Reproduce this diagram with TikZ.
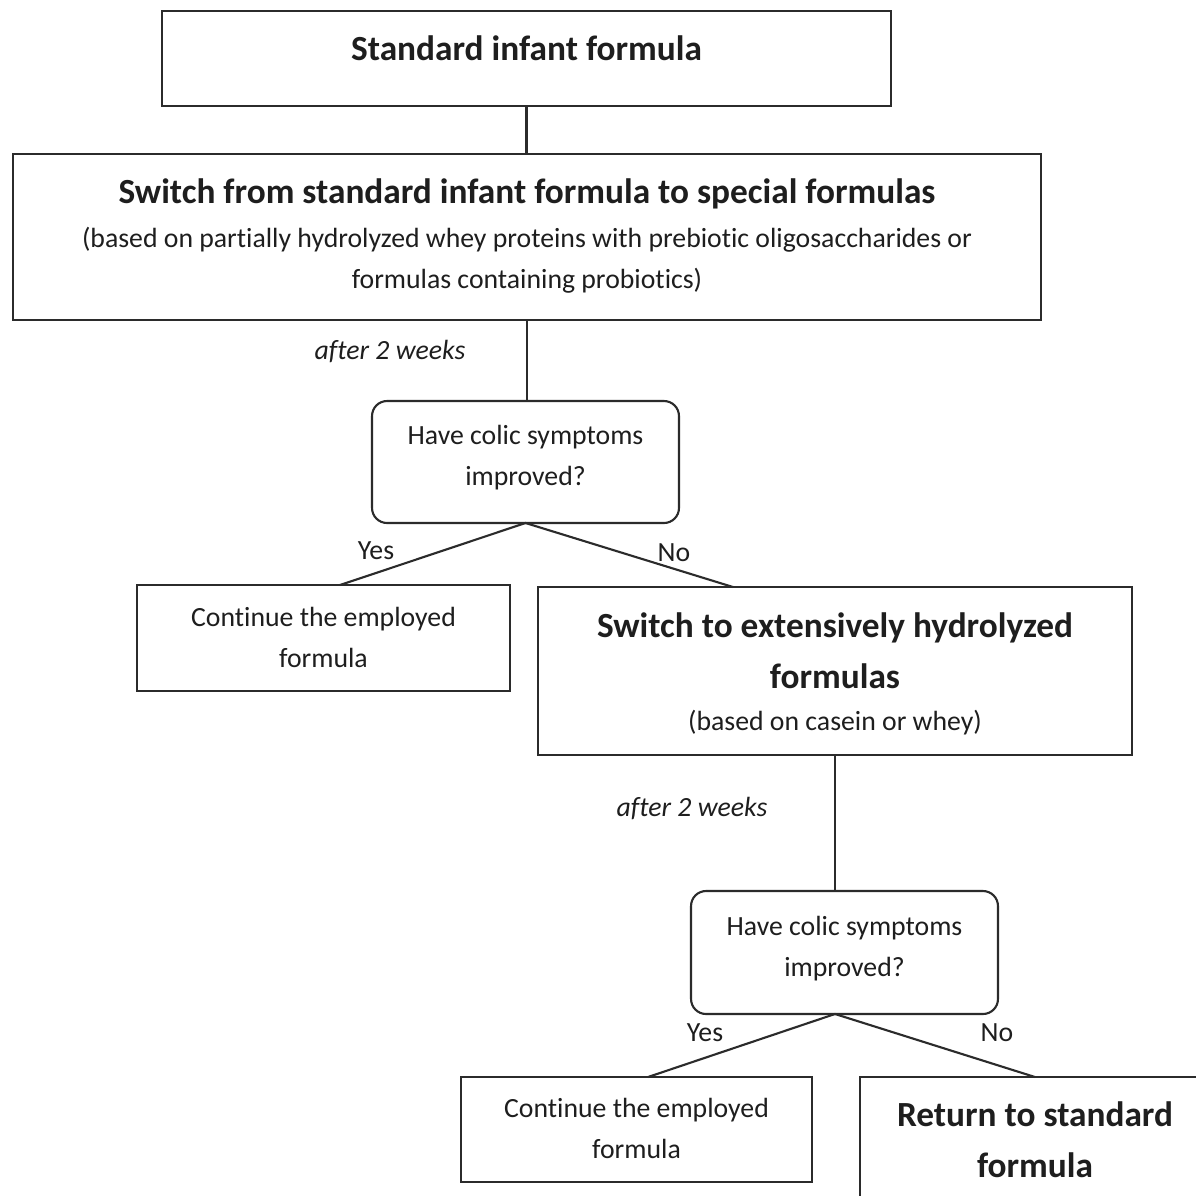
\documentclass[tikz,border=0pt]{standalone}
\usepackage{fontspec}
\setmainfont{Carlito}[Ligatures=NoCommon]
\usetikzlibrary{positioning}
\definecolor{cLine}{HTML}{2B2B2B}
\definecolor{cText}{HTML}{1E1E1E}

\begin{document}
\begin{tikzpicture}[x=0.02cm,y=-0.02cm,
      box/.style={draw=cLine,line width=1.2pt,inner sep=0pt,outer sep=0pt,align=center,
                  anchor=base,text=cText,font=\fontsize{15.8}{23.3}\selectfont},
      head/.style={box,font=\bfseries\fontsize{20.1}{28.9}\selectfont},
      qbox/.style={box,rounded corners=0.3cm},
      lbl/.style={anchor=base,inner sep=0pt,text=cText,font=\fontsize{15.8}{23.3}\selectfont},
      wait/.style={lbl,font=\itshape\fontsize{15.8}{23.3}\selectfont},
      link/.style={draw=cLine,line width=1.2pt}]
    \clip (0,0) rectangle (1196,1196);
    \fill[white] (0,0) rectangle (1196,1196);
    \node[head,minimum width=14.58cm,text height=1.0cm,text depth=0.9cm] (std) at (526.5,61)
      {Standard infant formula};
    \node[box,minimum width=20.56cm,text height=2.68cm,text depth=0.64cm] (sw1) at (527,288)
      {{\bfseries\fontsize{20.1}{28.9}\selectfont Switch from standard infant formula to special formulas}\\[1.7pt]
       (based on partially hydrolyzed whey proteins with prebiotic oligosaccharides or\\
       formulas containing probiotics)};
    \node[wait] (w1) at (390,359) {after 2 weeks};
    \node[qbox,minimum width=6.14cm,text height=1.68cm,text depth=0.76cm] (q1) at (525.5,485)
      {Have colic symptoms\\improved?};
    \node[box,minimum width=7.46cm,text height=1.64cm,text depth=0.48cm] (cont1) at (323.5,667)
      {Continue the employed\\formula};
    \node[head,minimum width=11.88cm,text height=2.86cm,text depth=0.5cm] (sw2) at (835,730)
      {Switch to extensively hydrolyzed\\formulas\\[-5pt]
       {\mdseries\fontsize{15.8}{23.3}\selectfont (based on casein or whey)}};
    \node[wait] (w2) at (692,816) {after 2 weeks};
    \node[qbox,minimum width=6.14cm,text height=1.7cm,text depth=0.76cm] (q2) at (844.5,976)
      {Have colic symptoms\\improved?};
    \node[box,minimum width=7.02cm,text height=1.62cm,text depth=0.48cm] (cont2) at (636.5,1158)
      {Continue the employed\\formula};
    \node[head,minimum width=7.0cm,text height=2.0cm,text depth=1.06cm] (ret) at (1035,1177)
      {Return to standard\\formula};
    \node[lbl] (y1) at (376,559) {Yes};
    \node[lbl] (n1) at (674,561) {No};
    \node[lbl] (y2) at (705,1041) {Yes};
    \node[lbl] (n2) at (997,1041) {No};
    \draw[link] (std.south) -- (std.south |- sw1.north);
    \draw[link] (sw1.south) -- (sw1.south |- q1.north);
    \draw[link] ([xshift=0.33cm]cont1.north) -- (q1.south) -- ([xshift=-2.04cm]sw2.north);
    \draw[link] (sw2.south) -- (sw2.south |- q2.north);
    \draw[link] ([xshift=0.23cm]cont2.north) -- (q2.south -| sw2.south) -- (ret.north);
  \end{tikzpicture}
\end{document}
